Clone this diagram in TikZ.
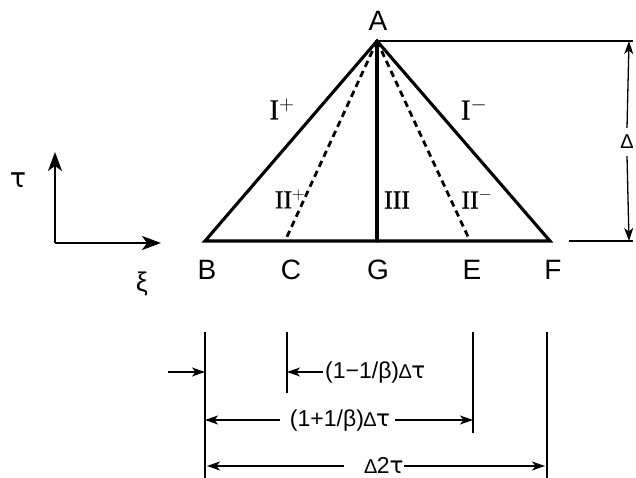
\documentclass[tikz,border=0pt]{standalone}
\usepackage{fontspec}
\setmainfont{Liberation Sans}
\newfontfamily\djv{DejaVu Sans}
\newfontfamily\lsr[FakeBold=0.8]{Liberation Serif}
\usetikzlibrary{arrows.meta}
\newcommand{\tri}{{\fontsize{20}{20}\selectfont ∆}}
\newcommand{\tauch}{{\djv τ}}
\begin{document}
\begin{tikzpicture}[x=1pt,y=-1pt,
  ptlabel/.style={font=\fontsize{28}{28}\selectfont, inner sep=0pt},
  roman/.style={font=\fontsize{26}{26}\selectfont\lsr, inner sep=0pt},
  romanbig/.style={font=\fontsize{29}{29}\selectfont\lsr, inner sep=0pt},
  thick3/.style={line width=3.1pt, line cap=round, line join=miter},
  dash3/.style={line width=2.8pt, dash pattern=on 6.5pt off 4.5pt},
  thin1/.style={line width=1.3pt},
  axisarrow/.style={line width=1.6pt, -{Stealth[length=19pt,width=14pt,inset=5pt]}},
  dimarrow/.style={line width=1.3pt, -{Stealth[length=13pt,width=9pt,inset=3.5pt]}},
  dimtext/.style={font=\fontsize{23}{23}\selectfont, inner sep=0pt}]
\useasboundingbox (0,0) rectangle (636,478);
% triangle points
\coordinate (pA) at (377,41);
\coordinate (pB) at (205,241);
\coordinate (pC) at (285,241);
\coordinate (pG) at (377,241);
\coordinate (pE) at (470,241);
\coordinate (pF) at (550,241);
\draw[thick3] (pB) -- (pA) -- (pF) -- cycle;
\draw[thick3] (pA) -- (pG);
\draw[dash3] (pA) -- (pC);
\draw[dash3] (pA) -- (pE);
% point labels
\node[ptlabel] (A) at (378,21) {A};
\node[ptlabel] (B) at (207,270) {B};
\node[ptlabel] (C) at (291,270) {C};
\node[ptlabel] (G) at (378,270) {G};
\node[ptlabel] (E) at (472,270) {E};
\node[ptlabel] (F) at (553,270) {F};
% region labels
\node[romanbig] (r1p) at (282,109) {I$^{+}$};
\node[romanbig] (r1m) at (474,109) {I$^{-}$};
\node[roman] (r2p) at (290,199) {II$^{+}$};
\node[roman] (r3) at (397,200) {III};
\node[roman] (r2m) at (477,199) {II$^{-}$};
% axes
\coordinate (o) at (55,243);
\coordinate (ty) at (55,152);
\coordinate (tx) at (161,243);
\draw[axisarrow] (o) -- (ty);
\draw[axisarrow] (o) -- (tx);
\node[ptlabel, font=\fontsize{27}{27}\selectfont\djv] (tau) at (18,180) {τ};
\node[ptlabel, font=\fontsize{27}{27}\selectfont] (xi) at (142,284) {ξ};
% right dimension
\coordinate (rt1) at (633,41);
\coordinate (rb0) at (569,241);
\coordinate (rb1) at (633,241);
\draw[thin1] (pA) -- (rt1);
\draw[thin1] (rb0) -- (rb1);
\coordinate (dt) at (629,41);
\coordinate (db) at (629,241);
\node[inner sep=0pt, fill=white, minimum height=28pt, minimum width=12pt] (dl) at (627,142) {\tri};
\draw[dimarrow] (dl.north) -- (dt);
\draw[dimarrow] (dl.south) -- (db);
% bottom extension lines
\coordinate (v1t) at (205,332); \coordinate (v1b) at (205,478);
\coordinate (v2t) at (287,332); \coordinate (v2b) at (287,393);
\coordinate (v3t) at (473,332); \coordinate (v3b) at (473,433);
\coordinate (v4t) at (547,332); \coordinate (v4b) at (547,478);
\draw[thin1] (v1t) -- (v1b);
\draw[thin1] (v2t) -- (v2b);
\draw[thin1] (v3t) -- (v3b);
\draw[thin1] (v4t) -- (v4b);
% row 1
\coordinate (a1s) at (168,372);
\coordinate (a1e) at (205,372);
\draw[dimarrow] (a1s) -- (a1e);
\node[dimtext, anchor=west] (t1) at (325,373) {(1−1/β)\tri\tauch};
\coordinate (a2e) at (287,372);
\draw[dimarrow] ([xshift=-2pt]t1.west|-a2e) -- (a2e);
% row 2
\node[dimtext] (t2) at (340,421) {(1+1/β)\tri\tauch};
\coordinate (a3e) at (205,420);
\coordinate (a4e) at (473,420);
\draw[dimarrow] ([xshift=-10pt]t2.west|-a3e) -- (a3e);
\draw[dimarrow] ([xshift=5pt]t2.east|-a4e) -- (a4e);
% row 3
\node[dimtext] (t3) at (384,465) {\tri 2\tauch};
\coordinate (a5e) at (207,466);
\coordinate (a6e) at (545,466);
\draw[dimarrow] ([xshift=-20pt]t3.west|-a5e) -- (a5e);
\draw[dimarrow] (t3.east|-a6e) -- (a6e);
\end{tikzpicture}
\end{document}
